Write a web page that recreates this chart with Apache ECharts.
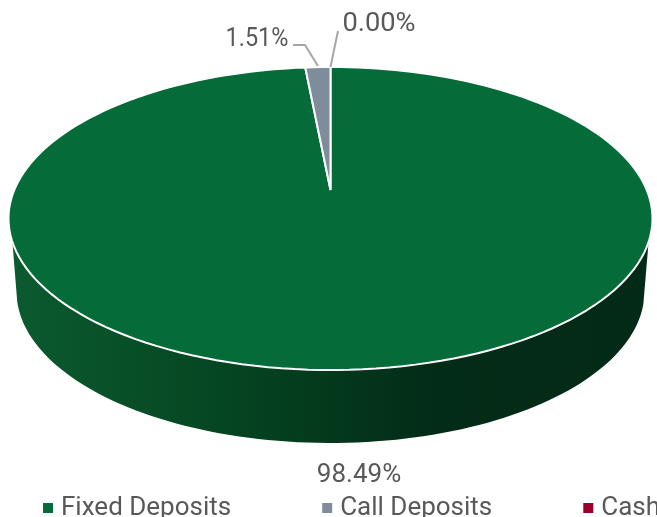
<!DOCTYPE html>
<html>
<head>
<meta charset="utf-8">
<style>
html, body { margin: 0; padding: 0; background: #fff; overflow: hidden; }
#chart { width: 657px; height: 517px; }
</style>
<script src="https://cdn.jsdelivr.net/npm/echarts@6/dist/echarts.min.js"></script>
</head>
<body>
<div id="chart"></div>
<script>
var categories = ['Fixed Deposits', 'Call Deposits', 'Cash'];
var shares = [98.49, 1.51, 0.00];
var sliceColors = ['#056b38', '#7f8c9c', '#9a0029'];

var FONT = 'Roboto, sans-serif';
var TEXT_COLOR = '#595959';

// perspective of the tilted disc, fitted to the picture
var CX = 330.5, HUB_Y = 190, BACK_Y = 67, FRONT_Y = 370, HALF_W = 322;
var DEPTH = 73, BOTTOM_SCALE = 0.975;
var C = (2 * HUB_Y - FRONT_Y - BACK_Y) / (FRONT_Y - BACK_Y);
var B = FRONT_Y * (1 + C) - HUB_Y;
var D = HALF_W * Math.sqrt(1 - C * C);

// label anchor + leader line for each slice
var labelLayout = [
    { x: 359, y: 475, sx: 1, line: null },
    { x: 257, y: 39, sx: 0.9, line: [[318, 66], [305, 45], [293, 45]] },
    { x: 379, y: 24, sx: 1.05, line: [[330.5, 67], [338, 31]] }
];

function rim(deg) {
    var t = deg * Math.PI / 180;
    var u = Math.sin(t), v = -Math.cos(t);
    var w = 1 + C * v;
    return [CX + D * u / w, (HUB_Y + B * v) / w];
}

function wedge(from, to) {
    var pts = [[CX, HUB_Y]];
    var n = Math.max(2, Math.ceil((to - from) / 2));
    for (var i = 0; i <= n; i++) {
        pts.push(rim(from + (to - from) * i / n));
    }
    return pts;
}

function wallPoints() {
    var pts = [], a;
    for (a = 109.5; a <= 250.5; a += 1.5) pts.push(rim(a));
    for (a = 255.5; a >= 104.5; a -= 1.5) {
        var p = rim(a);
        pts.push([CX + (p[0] - CX) * BOTTOM_SCALE, p[1] + DEPTH]);
    }
    return pts;
}

function startAngle(idx) {
    var total = shares.reduce(function (s, v) { return s + v; }, 0);
    var sum = 0;
    for (var i = 0; i < idx; i++) sum += shares[i];
    return sum / total * 360;
}

function makeRender(idx) {
    return function (params, api) {
        var value = api.value(0);
        var total = shares.reduce(function (s, v) { return s + v; }, 0);
        var from = startAngle(idx);
        var to = from + value / total * 360;
        var kids = [];
        if (idx === 0) {
            kids.push({
                type: 'polygon',
                shape: { points: wallPoints() },
                style: {
                    fill: new echarts.graphic.LinearGradient(0, 0, 1, 0, [
                        { offset: 0, color: '#0c5a2f' },
                        { offset: 0.3, color: '#054823' },
                        { offset: 0.66, color: '#032c17' },
                        { offset: 1, color: '#032a16' }
                    ])
                }
            });
        }
        if (value > 0) {
            kids.push({
                type: 'polygon',
                shape: { points: wedge(from, to) },
                style: { fill: sliceColors[idx], stroke: '#fff', lineWidth: 2, lineJoin: 'bevel' }
            });
        }
        var lay = labelLayout[idx];
        if (lay.line) {
            kids.push({
                type: 'polyline',
                shape: { points: lay.line },
                style: { fill: null, stroke: '#a6a6a6', lineWidth: 2 },
                z2: 5
            });
        }
        kids.push({
            type: 'text',
            x: lay.x,
            y: lay.y,
            scaleX: lay.sx,
            style: {
                text: value.toFixed(2) + '%',
                align: 'center',
                verticalAlign: 'middle',
                fill: TEXT_COLOR,
                fontSize: 26,
                fontFamily: FONT
            },
            z2: 6
        });
        return { type: 'group', children: kids };
    };
}

var chart = echarts.init(document.getElementById('chart'), null, { renderer: 'canvas' });
chart.setOption({
    animation: false,
    backgroundColor: '#fff',
    color: sliceColors,
    legend: {
        data: categories,
        left: 43,
        top: 495,
        width: 640,
        padding: 0,
        itemGap: 91,
        itemWidth: 10,
        itemHeight: 10,
        icon: 'rect',
        selectedMode: false,
        textStyle: { color: TEXT_COLOR, fontSize: 26, fontFamily: FONT, padding: [0, 0, 0, 3] }
    },
    series: categories.map(function (name, i) {
        return {
            type: 'custom',
            name: name,
            coordinateSystem: 'none',
            renderItem: makeRender(i),
            silent: true,
            z: 2,
            itemStyle: { color: sliceColors[i] },
            data: [[shares[i]]]
        };
    })
});
window.addEventListener('resize', function () { chart.resize(); });
</script>
</body>
</html>
